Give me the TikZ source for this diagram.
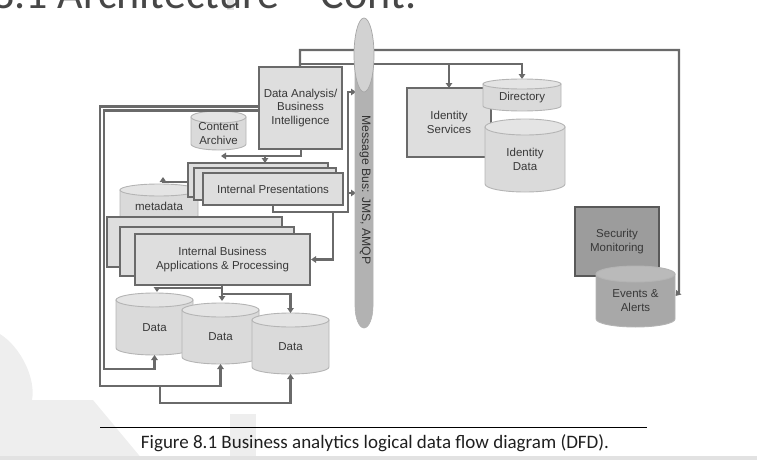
\documentclass[tikz,border=0pt]{standalone}
\usepackage{fontspec}
\setmainfont{Liberation Sans}
\newfontfamily\carlito{Carlito}
\usetikzlibrary{arrows.meta}
\definecolor{lc}{HTML}{6A6A6A}
\definecolor{boxfill}{HTML}{DEDEDE}
\definecolor{txt}{HTML}{383838}
\definecolor{cylbody}{HTML}{DADADA}
\definecolor{cyltop}{HTML}{E4E4E4}
\definecolor{cylline}{HTML}{B4B4B4}
\definecolor{darkbody}{HTML}{A8A8A8}
\definecolor{darktop}{HTML}{BABABA}
\definecolor{smfill}{HTML}{9C9C9C}
\definecolor{busbody}{HTML}{B2B2B2}
\definecolor{bustop}{HTML}{D2D2D2}
\definecolor{wm}{HTML}{EEEEEE}
\newcommand\dbcyl[9]{%
  \pgfmathsetmacro\cylcx{(#1+#2)/2}%
  \pgfmathsetmacro\cylrx{(#2-#1)/2}%
  \pgfmathsetmacro\cylty{#3+#5}%
  \pgfmathsetmacro\cylby{#4-#5}%
  \pgfmathsetmacro\cylly{(#3+#4+#5)/2}%
  \filldraw[cylstyle, fill=#6] (#1,\cylty) -- (#1,\cylby) arc[start angle=180,end angle=0,x radius=\cylrx,y radius=#5] -- (#2,\cylty) -- cycle;
  \filldraw[cylstyle, fill=#7] (\cylcx,\cylty) ellipse[x radius=\cylrx, y radius=#5];
  \coordinate (#8-top) at (\cylcx,#3);
  \coordinate (#8-bot) at (\cylcx,#4);
  \node[lbl] (#8) at (\cylcx,\cylly) {#9};
}
\begin{document}
\begin{tikzpicture}[x=1pt,y=-1pt,
  conn/.style={draw=lc, line width=2.1pt},
  arr/.style={conn, -{Triangle[width=6.5pt,length=5pt]}},
  box/.style={draw=lc, fill=boxfill, line width=2pt, inner sep=0pt, align=center,
    font=\fontsize{11.5}{13.6}\selectfont, text=txt},
  lbl/.style={font=\fontsize{11.5}{13.6}\selectfont, text=txt, align=center, inner sep=0pt},
  cylstyle/.style={draw=cylline, line width=0.9pt}]
\useasboundingbox (0,0) rectangle (757,460);
\clip (0,0) rectangle (757,460);
% watermark
\fill[wm] (0,334) .. controls (22,348) and (36,380) .. (32,400) -- (93,400) -- (143,460) -- (0,460) -- cycle;
\fill[wm] (230,414) rectangle (256,460);
\fill[wm!95!black] (227,0) rectangle (234,10);
\fill[wm!95!black] (0,456) rectangle (757,460);
% title and caption
\node[anchor=base west, inner sep=0pt, font=\carlito\fontsize{44}{44}\selectfont, text=black!72] (title) at (-8,9) {8.1 Architecture – Cont.};
\draw[black, line width=0.6pt] (100,427) coordinate (capl) -- (647,427) coordinate (capr);
\node[anchor=base, inner sep=0pt, font=\carlito\fontsize{19}{19}\selectfont, text=black!88] (caption) at (375,448) {Figure 8.1 Business analytics logical data flow diagram (DFD).};

% lines passing behind the bus
\node[box, minimum width=83pt, minimum height=82pt] (da) at (300.5,108) {Data Analysis/\\Business\\Intelligence};
\draw[arr] (da.north -| 300,0) |- (679,50) -- (679,292) -- (675.5,296);
\draw[arr] (300,64) -| (522,79) coordinate (dirtop);
\draw[arr] (449,64) -- (449,88) coordinate (istop);

% cylinders and stacks
\dbcyl{191}{246}{111}{150}{6}{cylbody}{cyltop}{ca}{Content\\Archive}
\dbcyl{120}{198}{184}{222}{6}{cylbody}{cyltop}{meta}{metadata}
\node[box, minimum width=140pt, minimum height=34pt] (ip3) at (258,180) {};
\node[box, minimum width=142pt, minimum height=32pt] (ip2) at (265,184) {};
\node[box, minimum width=140pt, minimum height=32pt] (ip) at (273,189) {Internal Presentations};
\node[box, minimum width=175pt, minimum height=50pt] (ibap3) at (194.5,242) {};
\node[box, minimum width=174pt, minimum height=49pt] (ibap2) at (207,251.5) {};
\node[box, minimum width=175pt, minimum height=51pt] (ibap) at (222.5,259.5) {Internal Business\\Applications \& Processing};
\dbcyl{116}{193}{293}{355}{7}{cylbody}{cyltop}{d1}{Data}
\dbcyl{182}{259}{303}{364}{7}{cylbody}{cyltop}{d2}{Data}
\dbcyl{252}{329}{313}{374}{7}{cylbody}{cyltop}{d3}{Data}
\node[box, minimum width=84pt, minimum height=69pt] (is) at (449,122.5) {Identity\\Services};
\dbcyl{483}{561}{79}{111}{5}{cylbody}{cyltop}{dir}{Directory}
\dbcyl{485}{565}{119}{192}{8}{cylbody}{cyltop}{idd}{Identity\\Data}
\node[box, fill=smfill, draw=black!65, minimum width=84pt, minimum height=69pt] (sm) at (617,241.5) {Security\\Monitoring};
\dbcyl{596}{675}{266}{327}{8}{darkbody}{darktop}{ev}{Events \&\\Alerts}

% connectors
\draw[arr] (da.south -| 301,0) |- (221,156);
\draw[arr] (265,156) -- (265,163);
\draw[arr] (ip3.west |- 0,182) -| (163,177);
\draw[arr] (ip.south -| 273,0) |- (348,212) -- (348,92) -- (356,92);
\draw[arr] (348,193) -- (356,193);
\draw[arr] (333,212) |- (ibap.east);
\draw[arr] (da.west |- 0,106.5) -| (100,386) -| (d2-bot);
\draw[arr] (160,386) -- (160,403) -| (d3-bot);
\draw[arr] (da.west |- 0,110.5) -| (104,369) -| (d1-bot);
\draw[arr] (ibap.south -| 222,0) -- (222,301);
\draw[arr] (222,288) -| (157,292);
\draw[arr] (222,294) -| (d3-top);

% message bus
\filldraw[fill=busbody, draw=black!30, line width=0.6pt] (355,55) -- (355,306) arc[start angle=180,end angle=0,x radius=9,y radius=22] -- (373,55) -- cycle;
\filldraw[fill=bustop, draw=black!35, line width=0.7pt] (364,55) ellipse[x radius=10, y radius=37];
\node[lbl, rotate=-90, font=\fontsize{12.2}{14}\selectfont, text=black!80] (bus) at (365,190) {Message Bus: JMS, AMQP};
\end{tikzpicture}
\end{document}
